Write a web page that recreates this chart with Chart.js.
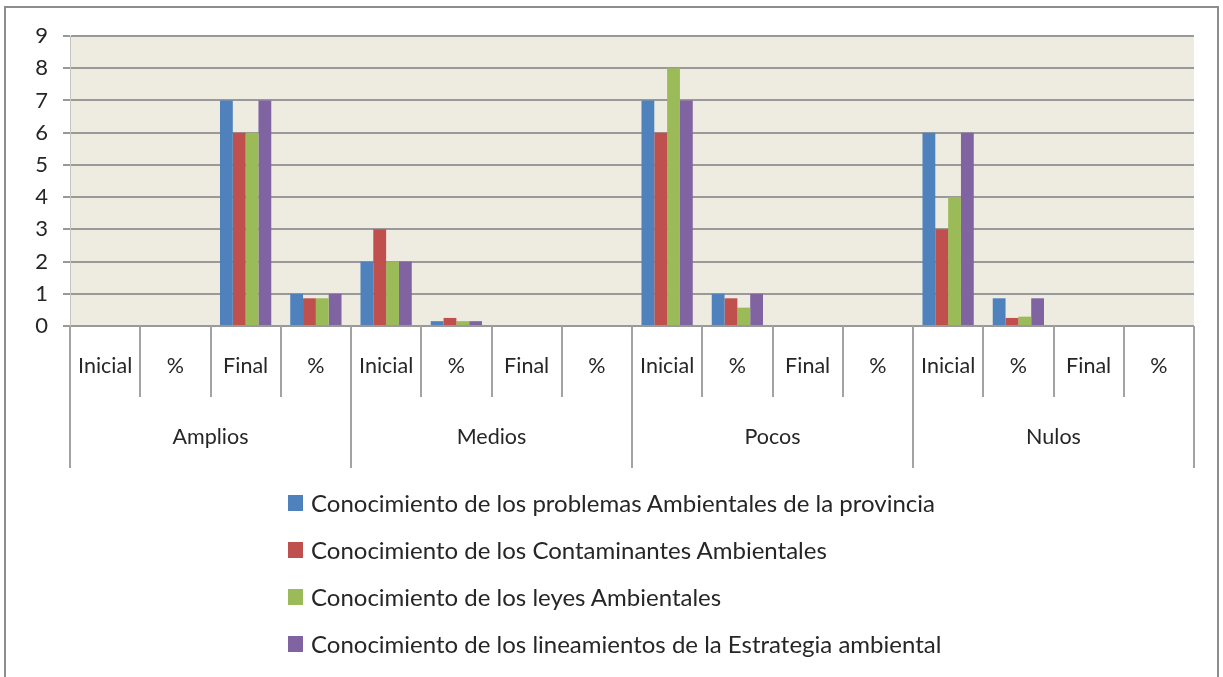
<!DOCTYPE html>
<html>
<head>
<meta charset="utf-8">
<script src="https://cdn.jsdelivr.net/npm/chart.js@4.4.1/dist/chart.umd.min.js"></script>
<style>
  html, body { margin: 0; padding: 0; background: #fff; }
  body { width: 1223px; height: 677px; position: relative; overflow: hidden; font-family: Lato, "Open Sans", sans-serif; }
  #frame { position: absolute; left: 4px; top: 6px; width: 1215px; height: 700px; border: 2px solid #8d8d8d; box-sizing: border-box; }
  #chart { position: absolute; left: 0; top: 0; }
  #legend { position: absolute; left: 288px; top: 0; }
  .item { position: absolute; left: 0; white-space: nowrap; height: 26px; line-height: 26px; font-size: 24px; color: #262626; }
  .item span.sw { position: absolute; left: 0; top: 5px; width: 15px; height: 16px; }
  .item span.tx { position: absolute; left: 23px; top: 0; }
</style>
</head>
<body>
<div id="frame"></div>
<canvas id="chart" width="1223" height="677"></canvas>
<div id="legend"></div>
<script>
// ── Data ──
const groupLabels = ['Amplios', 'Medios', 'Pocos', 'Nulos'];
const subLabels = ['Inicial', '%', 'Final', '%'];
const categories = groupLabels.flatMap(g => subLabels.map(s => s));

const seriesNames = [
  'Conocimiento de los problemas Ambientales de la provincia',
  'Conocimiento de los Contaminantes Ambientales',
  'Conocimiento de los leyes Ambientales',
  'Conocimiento de los lineamientos de la Estrategia ambiental'
];
const problemas     = [0, 0, 7, 1,     2, 0.15, 0, 0,  7, 1,    0, 0,  6, 0.86, 0, 0];
const contaminantes = [0, 0, 6, 0.86,  3, 0.25, 0, 0,  6, 0.86, 0, 0,  3, 0.25, 0, 0];
const leyes         = [0, 0, 6, 0.86,  2, 0.15, 0, 0,  8, 0.57, 0, 0,  4, 0.29, 0, 0];
const lineamientos  = [0, 0, 7, 1,     2, 0.15, 0, 0,  7, 1,    0, 0,  6, 0.86, 0, 0];
const yTicks = [0, 1, 2, 3, 4, 5, 6, 7, 8, 9];

const COLORS = ['#4F81BD', '#C0504D', '#9BBB59', '#8064A2'];
const FONT = 'Lato, "Open Sans", sans-serif';
const TEXT = '#262626';
const LINE = '#a3a3a3';

// plot background
const plotBg = {
  id: 'plotBg',
  beforeDraw(chart) {
    const { ctx, chartArea: a } = chart;
    ctx.save();
    ctx.fillStyle = '#EEECE1';
    ctx.fillRect(a.left, a.top, a.right - a.left, a.bottom - a.top);
    ctx.restore();
  }
};

// two-level category axis (Excel style)
const multiAxis = {
  id: 'multiAxis',
  afterDraw(chart) {
    const { ctx, chartArea: a } = chart;
    const xs = chart.scales.x;
    const step = xs.getPixelForValue(1) - xs.getPixelForValue(0);
    const subBottom = a.bottom + 71, grpBottom = a.bottom + 142;
    ctx.save();
    ctx.strokeStyle = LINE;
    ctx.lineWidth = 2;
    for (let i = 0; i <= categories.length; i++) {
      const x = Math.round(xs.getPixelForValue(i) - step / 2);
      ctx.beginPath();
      ctx.moveTo(x, a.bottom);
      ctx.lineTo(x, i % 4 === 0 ? grpBottom : subBottom);
      ctx.stroke();
    }
    ctx.fillStyle = TEXT;
    ctx.font = '21.5px ' + FONT;
    ctx.textAlign = 'center';
    ctx.textBaseline = 'middle';
    categories.forEach((c, i) => ctx.fillText(c, xs.getPixelForValue(i), a.bottom + 40));
    groupLabels.forEach((g, gi) => {
      const x = (xs.getPixelForValue(gi * 4) + xs.getPixelForValue(gi * 4 + 3)) / 2;
      ctx.fillText(g, x, a.bottom + 111);
    });
    ctx.restore();
  }
};

new Chart(document.getElementById('chart'), {
  type: 'bar',
  data: {
    labels: categories,
    datasets: [problemas, contaminantes, leyes, lineamientos].map((d, i) => ({
      label: seriesNames[i],
      data: d,
      backgroundColor: COLORS[i],
      borderWidth: 0,
      categoryPercentage: 0.73,
      barPercentage: 1
    }))
  },
  options: {
    responsive: false,
    animation: false,
    layout: { padding: { left: 0, top: 36, right: 29, bottom: 351 } },
    plugins: { legend: { display: false }, tooltip: { enabled: false } },
    scales: {
      x: { display: false },
      y: {
        min: 0, max: 9,
        afterFit: s => { s.width = 70; },
        afterBuildTicks: s => { s.ticks = yTicks.map(v => ({ value: v })); },
        grid: { color: '#999', lineWidth: 2, tickLength: 7, tickColor: '#999' },
        border: { display: true, color: '#c4c4c4', width: 1 },
        ticks: { color: TEXT, font: { family: FONT, size: 22 }, padding: 15 }
      }
    }
  },
  plugins: [plotBg, multiAxis]
});

// legend
const legend = document.getElementById('legend');
seriesNames.forEach((name, i) => {
  const row = document.createElement('div');
  row.className = 'item';
  row.style.top = (490 + i * 47) + 'px';
  row.innerHTML = '<span class="sw" style="background:' + COLORS[i] + '"></span><span class="tx">' + name + '</span>';
  legend.appendChild(row);
});
</script>
</body>
</html>
